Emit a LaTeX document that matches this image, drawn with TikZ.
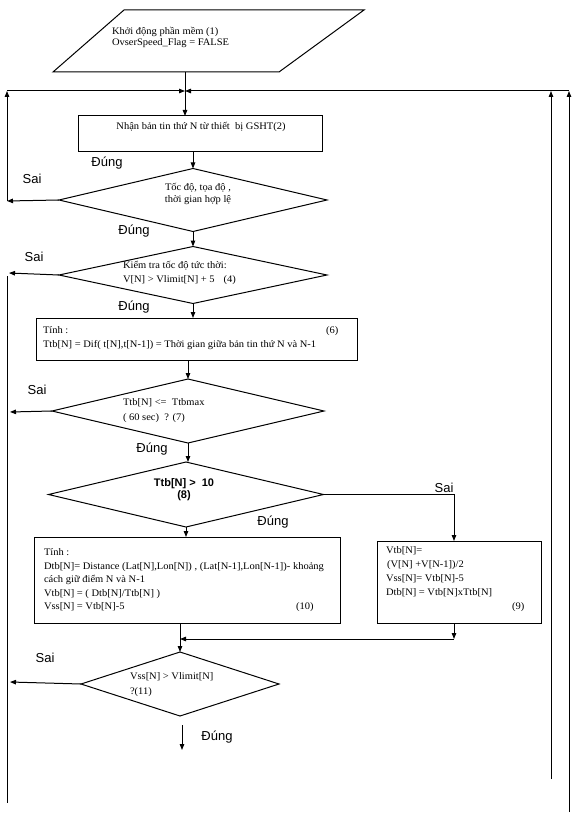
\documentclass[tikz,border=0pt]{standalone}
\usepackage{fontspec}
\setmainfont{Liberation Serif}[FakeStretch=1.05]
\newfontfamily\lsans{Liberation Sans}
\usetikzlibrary{shapes.geometric,arrows.meta}
\begin{document}
\begin{tikzpicture}[x=1pt,y=-1pt,
  every node/.style={inner sep=0pt,outer sep=0pt},
  ln/.style={line width=1pt},
  arr/.style={ln,-{Triangle[length=6pt,width=4.5pt]}},
  boxnode/.style={draw,ln,rectangle,anchor=north west},
  dia/.style={draw,ln,diamond},
  txt/.style={font=\fontsize{10}{13}\selectfont,align=left},
  btxt/.style={font=\lsans\bfseries\fontsize{11}{12}\selectfont,align=center},
  lab/.style={font=\lsans\fontsize{13}{15}\selectfont},
]
\useasboundingbox (0,0) rectangle (576,818);
\fill[white] (0,0) rectangle (576,818);

% start parallelogram
\draw[ln] (124,10) -- (364,10) -- (279,72) -- (53,72) -- cycle;
\node[txt,anchor=west,font=\fontsize{10}{11.5}\selectfont] (start) at (112,37.5) {Khởi động phần mềm (1)\\OvserSpeed\_Flag = FALSE};
\coordinate (sb) at (185,72);

% loop coordinates
\coordinate (LT) at (7,91);
\coordinate (RT) at (569,91);
\coordinate (R1t) at (551,91);
\coordinate (R1b) at (551,779);
\coordinate (R2b) at (569,812);
\coordinate (L1) at (7,201);
\coordinate (L2a) at (9,273);
\coordinate (L2t) at (7,276);
\coordinate (L2b) at (7,803);
\coordinate (L3) at (10,412);
\coordinate (L4) at (10,682);

% box 2
\node[boxnode,minimum width=244pt,minimum height=36pt] (b2) at (78,116) {};
\node[txt] (t2) at (201,127) {Nhận bản tin thứ N từ thiết~~bị GSHT(2)};

% diamond 3
\node[dia,minimum width=268pt,minimum height=63pt] (d3) at (193,200) {};
\node[txt,align=center,font=\fontsize{10}{12.5}\selectfont] (t3) at (198,194) {Tốc độ, tọa độ ,\\thời gian hợp lệ};

% diamond 4
\node[dia,minimum width=268pt,minimum height=57pt] (d4) at (193,275) {};
\node[txt,anchor=west,font=\fontsize{10}{14}\selectfont] (t4) at (123,273) {Kiểm tra tốc độ tức thời:\\V[N] > Vlimit[N] + 5\hspace{9pt}(4)};

% box 6
\node[boxnode,minimum width=321pt,minimum height=42pt] (b6) at (36,318) {};
\node[txt,anchor=west,font=\fontsize{10}{14}\selectfont] (t6) at (43,338) {Tính :\\Ttb[N] = Dif( t[N],t[N-1]) = Thời gian giữa bản tin thứ N và N-1};
\node[txt,anchor=west] (n6) at (326,331) {(6)};

% diamond 7
\node[dia,minimum width=272pt,minimum height=64pt] (d7) at (188,411) {};
\node[txt,anchor=west,font=\fontsize{10}{15}\selectfont] (t7) at (123,410.5) {Ttb[N] <=~~Ttbmax\\( 60 sec)~~? (7)};

% diamond 8
\node[dia,minimum width=275pt,minimum height=65pt] (d8) at (186,494.5) {};
\node[btxt] (t8) at (184,490) {Ttb[N] >~~10\\(8)};

% box 10
\node[boxnode,minimum width=306pt,minimum height=86pt] (b10) at (34,537) {};
\node[txt,anchor=west,font=\fontsize{10}{13.5}\selectfont] (t10) at (44,580) {Tính :\\Dtb[N]= Distance (Lat[N],Lon[N]) , (Lat[N-1],Lon[N-1])- khoảng\\cách giữ điểm N và N-1\\Vtb[N] = ( Dtb[N]/Ttb[N] )\\Vss[N] = Vtb[N]-5};
\node[txt,anchor=west] (n10) at (296,607) {(10)};

% box 9
\node[boxnode,minimum width=164pt,minimum height=82pt] (b9) at (377,541) {};
\node[txt,anchor=west,font=\fontsize{10}{14}\selectfont] (t9) at (386,572) {Vtb[N]=\\\hspace{1pt}(V[N] +V[N-1])/2\\Vss[N]= Vtb[N]-5\\Dtb[N] = Vtb[N]xTtb[N]};
\node[txt,anchor=west] (n9) at (512,607) {(9)};
\coordinate (c9) at (454,0);
\coordinate (M) at (0,639);

% diamond 11
\node[dia,minimum width=198pt,minimum height=64pt] (d11) at (180,684) {};
\node[txt,anchor=west,font=\fontsize{10}{15}\selectfont] (t11) at (130,684.5) {Vss[N] > Vlimit[N]\\?(11)};
\coordinate (e1) at (182,725);
\coordinate (e2) at (182,750);

% labels
\node[lab] (lD1) at (107,163) {Đúng};
\node[lab] (lS1) at (32,179) {Sai};
\node[lab] (lD2) at (134,231) {Đúng};
\node[lab] (lS2) at (34,257) {Sai};
\node[lab] (lD3) at (134,307) {Đúng};
\node[lab] (lS3) at (37,390) {Sai};
\node[lab] (lD4) at (152,449) {Đúng};
\node[lab] (lS4) at (444,488) {Sai};
\node[lab] (lD5) at (273,522) {Đúng};
\node[lab] (lS5) at (45,658) {Sai};
\node[lab] (lD6) at (217,737) {Đúng};

% connectors
\draw[arr] (sb) -- (sb |- b2.north);
\draw[arr] (d3.west) -- (L1);
\draw[arr] (L1) -- (LT);
\draw[arr] (LT) -- (sb |- LT);
\draw[arr] (R2b) -- (RT);
\draw[arr] (R1b) -- (R1t);
\draw[arr] (RT) -- (sb |- RT);
\draw[arr] (d3.north |- b2.south) -- (d3.north);
\draw[arr] (d3.south) -- (d4.north);
\draw[arr] (d4.west) -- (L2a);
\draw[ln] (L2t) -- (L2b);
\draw[arr] (d4.south) -- (d4.south |- b6.north);
\draw[arr] (d7.north |- b6.south) -- (d7.north);
\draw[arr] (d7.west) -- (L3);
\draw[arr] (d7.south) -- (d7.south |- d8.north);
\draw[arr] (d8.east) -| (c9 |- b9.north);
\draw[arr] (d8.south) -- (d8.south |- b10.north);
\draw[arr] (d11.north |- b10.south) -- (d11.north);
\draw[arr] (c9 |- b9.south) -- (c9 |- M);
\draw[arr] (c9 |- M) -- (d11.north |- M);
\draw[arr] (d11.west) -- (L4);
\draw[arr] (e1) -- (e2);
\end{tikzpicture}
\end{document}
